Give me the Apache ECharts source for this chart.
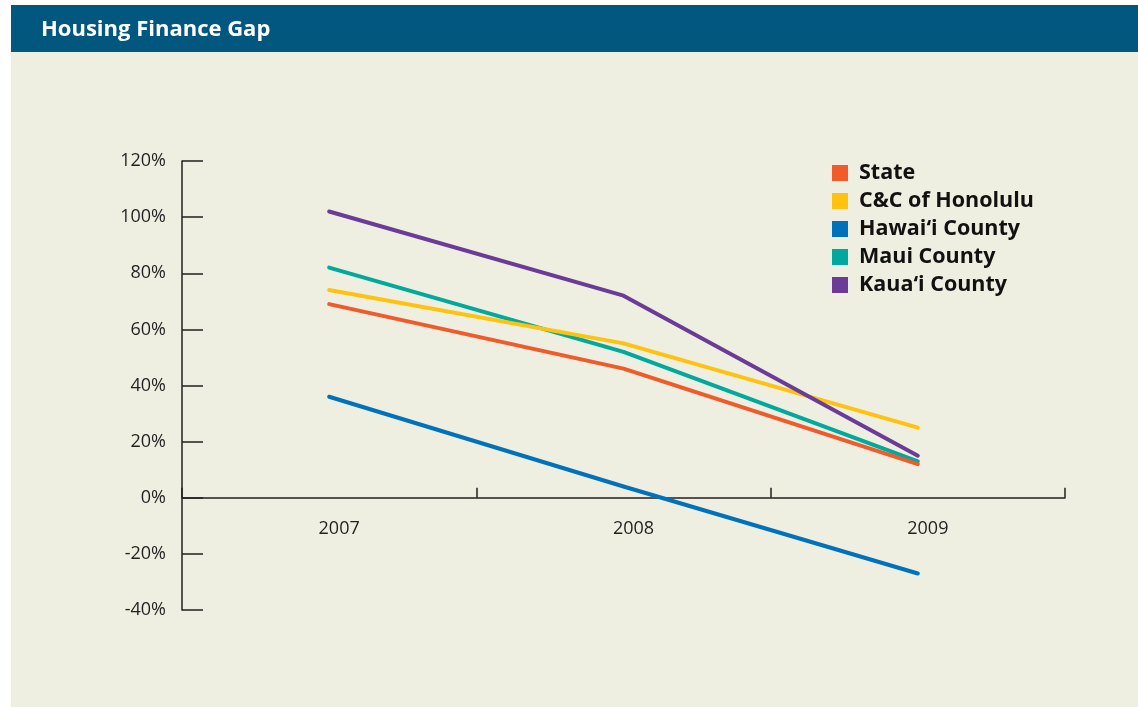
<!DOCTYPE html>
<html>
<head>
<meta charset="utf-8">
<script src="https://cdn.jsdelivr.net/npm/echarts@6/dist/echarts.min.js"></script>
<style>
html,body{margin:0;padding:0;background:#fff;}
#c{width:1138px;height:707px;}
</style>
</head>
<body>
<div id="c"></div>
<script>
const title = 'Housing Finance Gap';
const years = ['2007', '2008', '2009'];
const yTicks = [-40, 120, 20];
const seriesNames = ['State', 'C&C of Honolulu', 'Hawai\u2018i County', 'Maui County', 'Kaua\u2018i County'];
const stateVals = [69, 46, 12];
const honoluluVals = [74, 55, 25];
const hawaiiVals = [36, 4, -27];
const mauiVals = [82, 52, 13];
const kauaiVals = [102, 72, 15];
const colors = ['#F15A29', '#FFC20E', '#0072BC', '#00A99D', '#6A3C97'];
const zOrder = [3, 4, 2, 2, 5];

const allVals = [stateVals, honoluluVals, hawaiiVals, mauiVals, kauaiVals];
const axisColor = '#231F20';
const chart = echarts.init(document.getElementById('c'));
chart.setOption({
  animation: false,
  graphic: [
    {type: 'rect', left: 11, top: 5, shape: {width: 1127, height: 702}, style: {fill: '#EFEFE1'}, z: -10},
    {type: 'rect', left: 11, top: 5, shape: {width: 1127, height: 47}, style: {fill: '#02577F'}, z: -9},
    {type: 'text', left: 41, top: 19, style: {text: title, fill: '#fff', font: 'bold 22px "Open Sans"'}, z: 10}
  ],
  grid: {left: 182, right: 73, top: 161, bottom: 97, containLabel: false},
  legend: {
    orient: 'vertical', left: 832, top: 162, icon: 'rect', padding: 0,
    itemWidth: 16, itemHeight: 16, itemGap: 6,
    data: seriesNames,
    textStyle: {fontFamily: 'Open Sans', fontWeight: 'bold', fontSize: 21.5, color: '#111', lineHeight: 20, padding: [0, 0, 0, 6]}
  },
  xAxis: [{
    type: 'category', data: years, boundaryGap: true,
    axisLine: {onZero: true, lineStyle: {color: axisColor, width: 1.5}},
    axisTick: {show: true, inside: true, length: 10, lineStyle: {color: axisColor, width: 1.5}},
    axisLabel: {show: false},
    splitLine: {show: false}
  }, {
    type: 'category', data: years, boundaryGap: true, position: 'bottom', offset: -112,
    axisLine: {show: false, onZero: false},
    axisTick: {show: false},
    axisLabel: {fontFamily: 'Open Sans', fontSize: 18, color: '#231F20', margin: 22, padding: [0, 0, 0, 20]},
    splitLine: {show: false}
  }],
  yAxis: {
    type: 'value', min: yTicks[0], max: yTicks[1], interval: yTicks[2],
    axisLine: {show: true, lineStyle: {color: axisColor, width: 1.5}},
    axisTick: {show: true, inside: true, length: 21, lineStyle: {color: axisColor, width: 1.5}},
    axisLabel: {fontFamily: 'Open Sans', fontSize: 18, color: '#231F20', margin: 16, formatter: '{value}%'},
    splitLine: {show: false}
  },
  series: seriesNames.map((n, i) => ({
    name: n, type: 'line', data: allVals[i], showSymbol: false, symbol: 'none',
    z: zOrder[i],
    itemStyle: {color: colors[i]},
    lineStyle: {color: colors[i], width: 4, cap: 'round', join: 'round'}
  }))
});
</script>
</body>
</html>
